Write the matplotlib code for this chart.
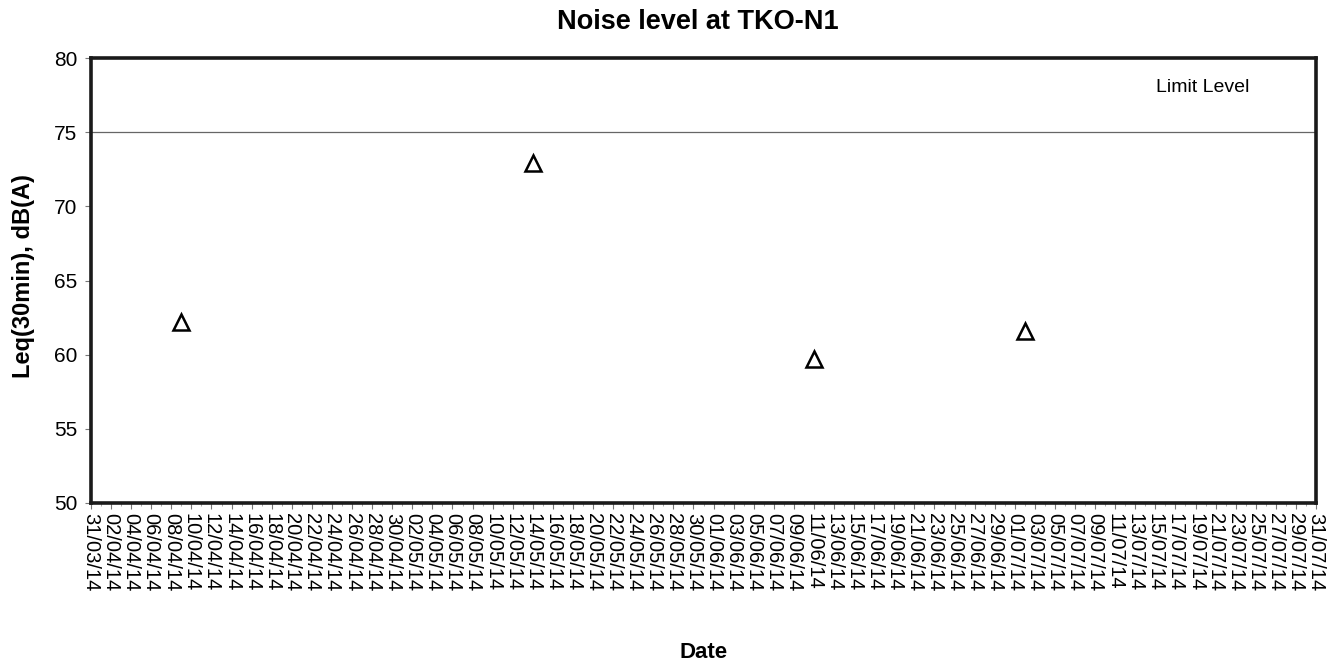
import matplotlib
matplotlib.use("Agg")
import matplotlib.pyplot as plt
import matplotlib.dates as mdates
import pandas as pd

plt.rcParams['font.family'] = ['Liberation Sans', 'DejaVu Sans']

# Data
dates = ["2014-04-09", "2014-05-14", "2014-06-11", "2014-07-02"]
leq = [62.2, 72.9, 59.7, 61.6]
limit_level = 75
x_start = "2014-03-31"
x_end = "2014-07-31"
y_ticks = [50, 55, 60, 65, 70, 75, 80]

title = "Noise level at TKO-N1"
y_label = "Leq(30min), dB(A)"
x_label = "Date"
limit_text = "Limit Level"

x = pd.to_datetime(dates)
tick_dates = pd.date_range(x_start, x_end, freq="2D")
tick_labels = [d.strftime("%d/%m/%y") for d in tick_dates]

fig = plt.figure(figsize=(13.41, 6.62), dpi=100)
ax = fig.add_axes([91/1341, 1 - 503/662, (1316 - 91)/1341, (503 - 58)/662])

ax.axhline(limit_level, color="#666666", lw=0.9, zorder=1)
ax.plot(x, leq, linestyle="none", marker="^", markersize=12,
        markerfacecolor="white", markeredgecolor="black", markeredgewidth=1.8, zorder=3)

ax.set_xlim(pd.Timestamp(x_start), pd.Timestamp(x_end))
ax.set_ylim(50, 80)
ax.set_yticks(y_ticks)
ax.set_xticks(tick_dates)
ax.set_xticklabels(tick_labels, rotation=-90, ha="center", va="top", fontsize=14.5)
ax.xaxis.set_minor_locator(mdates.DayLocator())
ax.tick_params(axis="x", which="major", length=4, width=0.8, color="#777777", pad=3)
ax.tick_params(axis="x", which="minor", length=2, width=0.6, color="#999999")
ax.tick_params(axis="y", which="major", length=4, width=0.8, color="#777777", labelsize=15, pad=6)

for s in ax.spines.values():
    s.set_linewidth(2.6)
    s.set_color("#1a1a1a")

ax.text(0.495, 1.081, title, transform=ax.transAxes, ha="center", va="center",
        fontsize=19.5, fontweight="bold")
ax.set_ylabel(y_label, fontsize=17, fontweight="bold")
ax.yaxis.set_label_coords(-0.046, 0.51)
ax.set_xlabel(x_label, fontsize=16, fontweight="bold", va="center")
ax.xaxis.set_label_coords(0.5, -0.337)

ax.text(0.869, 78, limit_text, transform=ax.get_yaxis_transform(), ha="left", va="center",
        fontsize=14)

fig.savefig("out.png", dpi=100, facecolor="white")
